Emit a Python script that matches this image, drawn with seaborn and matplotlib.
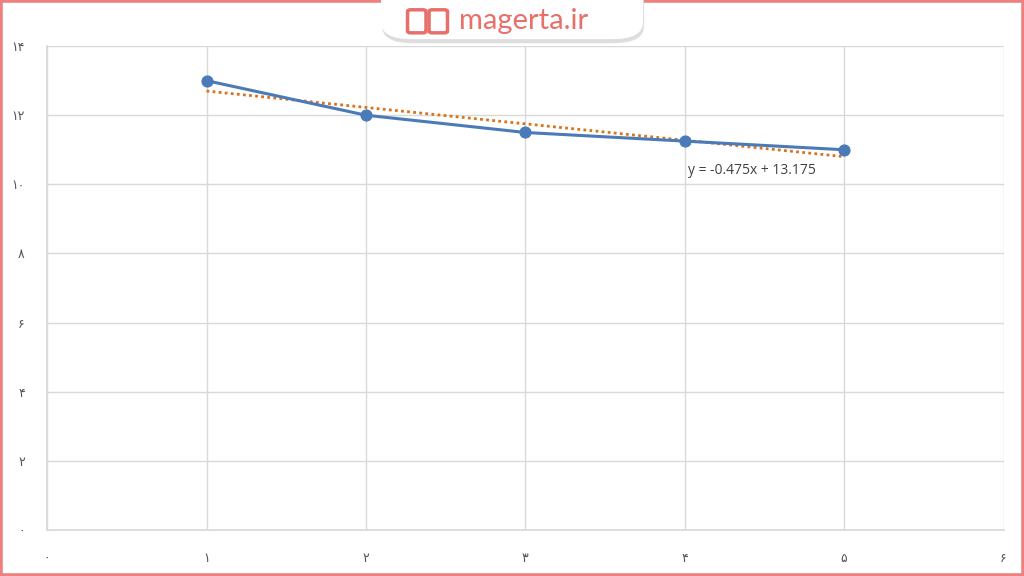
import matplotlib
matplotlib.use("Agg")
import matplotlib.pyplot as plt
import seaborn as sns
import numpy as np
import pandas as pd
from matplotlib.patches import FancyBboxPatch, Rectangle

x_vals = [1, 2, 3, 4, 5]
y_vals = [13, 12, 11.5, 11.25, 11]
slope, intercept = -0.475, 13.175
xticks = [0, 1, 2, 3, 4, 5, 6]
xtick_labels = ["۰", "۱", "۲", "۳", "۴", "۵", "۶"]
yticks = [0, 2, 4, 6, 8, 10, 12, 14]
ytick_labels = ["۰", "۲", "۴", "۶", "۸", "۱۰", "۱۲", "۱۴"]

sns.set_theme(style="whitegrid")
plt.rcParams['font.family'] = ['DejaVu Sans']
fig = plt.figure(figsize=(10.24, 5.76), dpi=100)
ax = fig.add_axes([0.046, 0.08, 0.934, 0.84])
df = pd.DataFrame({"x": x_vals, "y": y_vals})
sns.lineplot(data=df, x="x", y="y", ax=ax, color="#4a7ab8", linewidth=2.2,
             marker="o", markersize=8, markeredgecolor="#4a7ab8", zorder=3)
tx = np.array([x_vals[0], x_vals[-1]])
ax.plot(tx, slope * tx + intercept, linestyle=(0, (1, 1.2)), color="#d9731a", linewidth=2, zorder=2)
ax.text(4.02, 10.4, "y = -0.475x + 13.175", fontsize=10, color="#404040",
        family=['Open Sans', 'DejaVu Sans'], va="center")
ax.set_xlim(0, 6); ax.set_ylim(0, 14)
ax.set_xticks(xticks); ax.set_xticklabels(xtick_labels, fontsize=9, color="#555555")
ax.set_yticks(yticks); ax.set_yticklabels(ytick_labels, fontsize=9, color="#555555")
ax.set_xlabel(""); ax.set_ylabel("")
ax.grid(True, color="#d9d9d9", linewidth=1)
for s in ["top", "right"]:
    ax.spines[s].set_visible(False)
for s in ["left", "bottom"]:
    ax.spines[s].set_color("#d9d9d9")
ax.tick_params(axis="x", pad=10)
ax.tick_params(axis="y", pad=10)

fig.patches.append(Rectangle((0, 0), 1, 1, transform=fig.transFigure, fill=False,
                             edgecolor="#ee8080", linewidth=4))
fig.patches.append(FancyBboxPatch((0.373, 0.925), 0.256, 0.1, boxstyle="round,pad=0,rounding_size=0.03",
                                  transform=fig.transFigure, facecolor="#dddddd", edgecolor="none", zorder=5))
fig.patches.append(FancyBboxPatch((0.372, 0.932), 0.256, 0.1, boxstyle="round,pad=0,rounding_size=0.03",
                                  transform=fig.transFigure, facecolor="white", edgecolor="none", zorder=6))
# book icon drawn as shapes
for bx in (0.398, 0.419):
    fig.patches.append(FancyBboxPatch((bx, 0.943), 0.018, 0.04, boxstyle="round,pad=0,rounding_size=0.003",
                                      transform=fig.transFigure, facecolor="white",
                                      edgecolor="#e8706a", linewidth=2.5, zorder=7))
fig.text(0.448, 0.963, "magerta.ir", fontsize=21, color="#e8706a", va="center", zorder=7,
         family=['Lato', 'DejaVu Sans'])
fig.savefig("out.png", dpi=100)
